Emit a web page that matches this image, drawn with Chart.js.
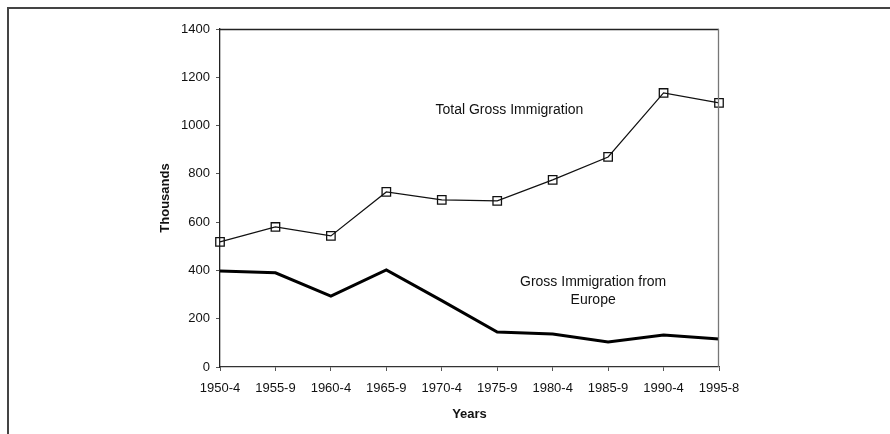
<!DOCTYPE html>
<html>
<head>
<meta charset="utf-8">
<script src="https://cdn.jsdelivr.net/npm/chart.js@4.4.0/dist/chart.umd.min.js"></script>
<style>
	html, body { margin: 0; padding: 0; background: #fff; }
	#wrap { position: relative; width: 890px; height: 434px; }
	#frame {
		position: absolute; left: 7px; top: 7px; right: 0; bottom: 0;
		border-left: 2px solid #444; border-top: 2px solid #444;
		pointer-events: none;
	}
</style>
</head>
<body>
<div id="wrap">
	<canvas id="myChart" width="890" height="434"></canvas>
	<div id="frame"></div>
</div>
<script>
var years = ['1950-4', '1955-9', '1960-4', '1965-9', '1970-4', '1975-9', '1980-4', '1985-9', '1990-4', '1995-8'];
var totalGross = [518, 580, 543, 725, 692, 688, 775, 870, 1135, 1094];
var fromEurope = [398, 390, 294, 402, 275, 145, 137, 104, 133, 116];
var yTicks = [0, 200, 400, 600, 800, 1000, 1200, 1400];

// text labels placed in data units (x = category index, y = thousands)
var notes = [
	{ text: 'Total Gross Immigration', x: 5.22, y: 1065 },
	{ text: 'Gross Immigration from', x: 6.73, y: 352 },
	{ text: 'Europe', x: 6.73, y: 277 }
];

var font = 'Liberation Sans, Arial, sans-serif';

var boxPlugin = {
	id: 'box',
	afterDraw: function(chart) {
		var ctx = chart.ctx, a = chart.chartArea;
		ctx.save();
		ctx.lineWidth = 1.3;
		ctx.strokeStyle = '#222';
		ctx.beginPath();
		ctx.moveTo(a.left, a.top + 0.5);
		ctx.lineTo(a.right, a.top + 0.5);
		ctx.stroke();
		ctx.strokeStyle = '#777';
		ctx.beginPath();
		ctx.moveTo(a.right - 0.5, a.top);
		ctx.lineTo(a.right - 0.5, a.bottom);
		ctx.stroke();

		var xs = chart.scales.x, ys = chart.scales.y;
		ctx.fillStyle = '#111';
		ctx.font = '14px ' + font;
		ctx.textAlign = 'center';
		ctx.textBaseline = 'middle';
		notes.forEach(function(n) {
			var px = xs.left + (xs.right - xs.left) * n.x / (years.length - 1);
			ctx.fillText(n.text, px, ys.getPixelForValue(n.y));
		});
		ctx.restore();
	}
};

var ctx = document.getElementById('myChart').getContext('2d');
var myChart = new Chart(ctx, {
	type: 'line',
	data: {
		labels: years,
		datasets: [
			{
				label: 'Total Gross Immigration',
				data: totalGross,
				borderColor: '#111',
				borderWidth: 1.2,
				pointStyle: 'rect',
				pointRadius: 6,
				pointBorderWidth: 1.3,
				pointBorderColor: '#111',
				pointBackgroundColor: 'rgba(255,255,255,0)',
				tension: 0
			},
			{
				label: 'Gross Immigration from Europe',
				data: fromEurope,
				borderColor: '#000',
				borderWidth: 3,
				pointRadius: 0,
				tension: 0
			}
		]
	},
	options: {
		responsive: false,
		animation: false,
		layout: { padding: { left: 150, right: 171, top: 29, bottom: 0 } },
		plugins: {
			legend: { display: false },
			tooltip: { enabled: false }
		},
		scales: {
			x: {
				offset: false,
				grid: { drawOnChartArea: false, tickLength: 4, color: '#555' },
				border: { color: '#333', width: 1.3 },
				ticks: { color: '#111', font: { family: font, size: 13 }, padding: 10, maxRotation: 0, autoSkip: false },
				title: { display: true, text: 'Years', color: '#111', font: { family: font, size: 13, weight: 'bold' }, padding: { top: 4, bottom: 12 } },
				afterFit: function(scale) { scale.height = 67; }
			},
			y: {
				min: 0,
				max: 1400,
				afterBuildTicks: function(scale) {
					scale.ticks = yTicks.map(function(v) { return { value: v }; });
				},
				grid: { drawOnChartArea: false, tickLength: 4, color: '#555' },
				border: { color: '#222', width: 1.3 },
				ticks: {
					color: '#111', font: { family: font, size: 13 }, padding: 6,
					callback: function(v) { return String(v); }
				},
				title: { display: true, text: 'Thousands', color: '#111', font: { family: font, size: 13, weight: 'bold' }, padding: { top: 8, bottom: 4 } },
				afterFit: function(scale) { scale.width = 70; }
			}
		}
	},
	plugins: [boxPlugin]
});
</script>
</body>
</html>
